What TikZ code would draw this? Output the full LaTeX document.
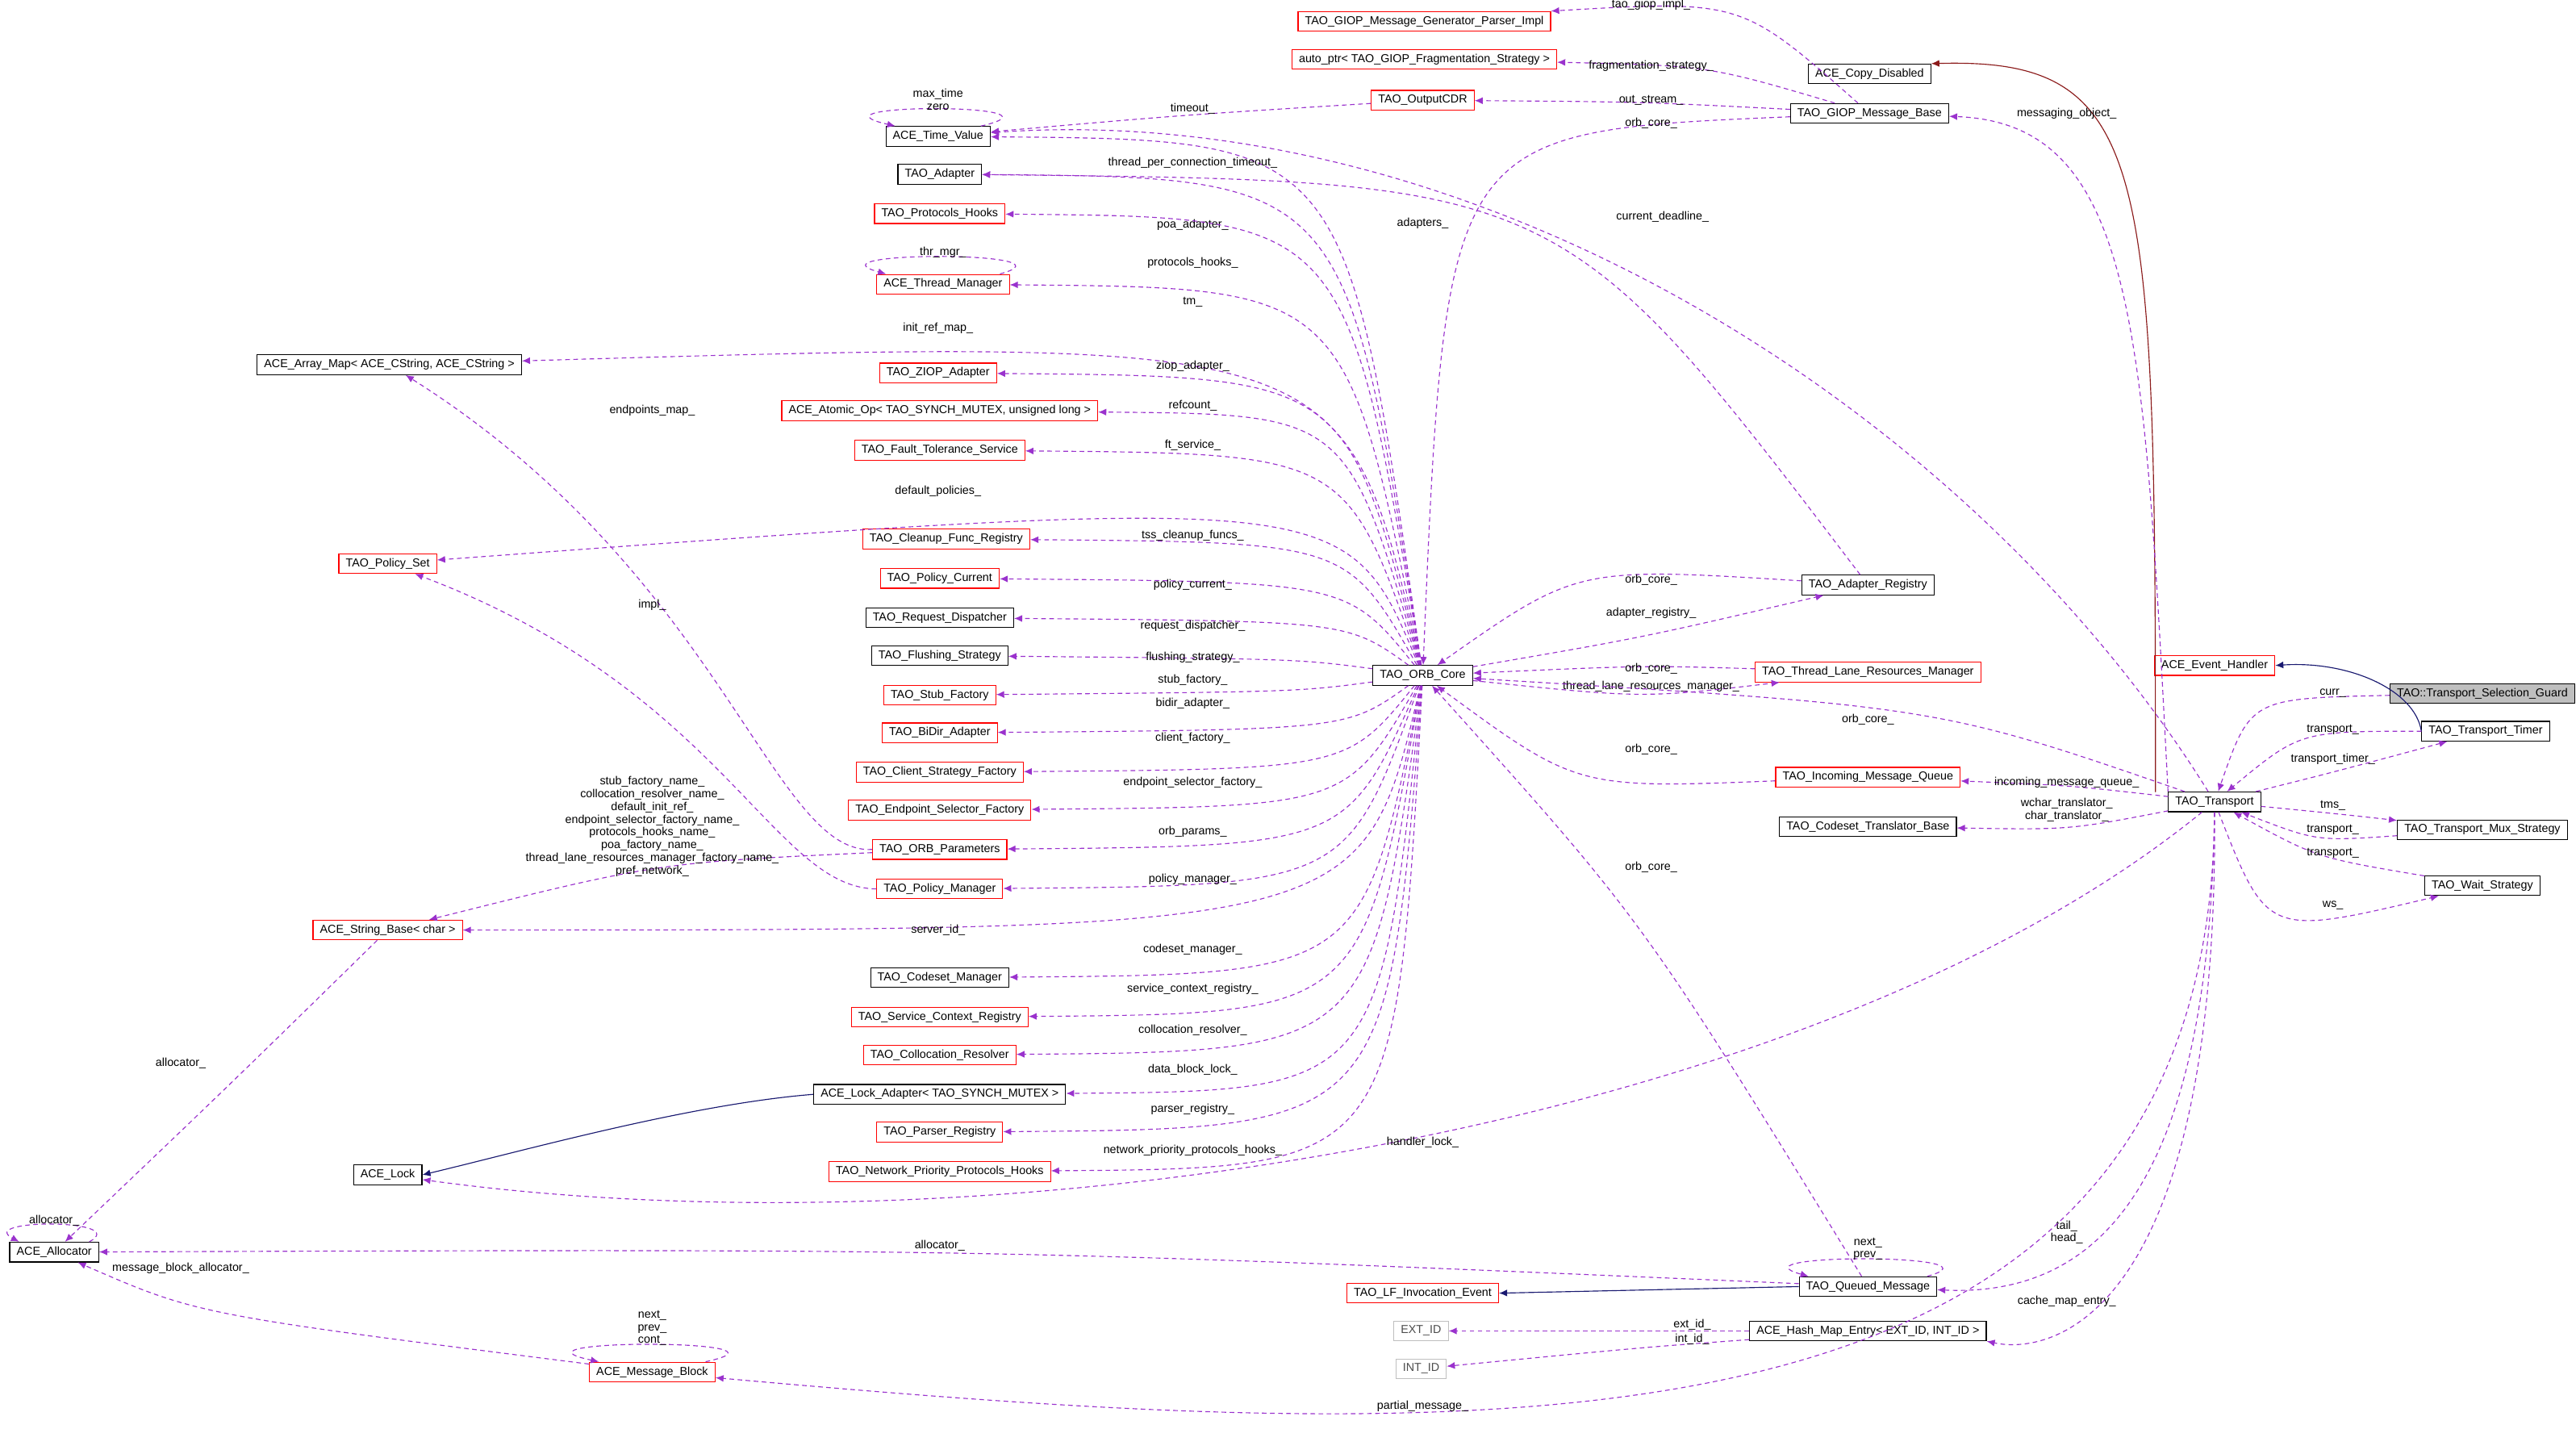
\documentclass[tikz,border=0pt]{standalone}
\usepackage{fontspec}
\setmainfont{Liberation Sans}
\usetikzlibrary{calc,arrows.meta}
\definecolor{membc}{HTML}{9A32CD}
\definecolor{navyc}{HTML}{191970}
\definecolor{darkredc}{HTML}{8B1A1A}
\tikzset{
  cls/.style={draw=black,fill=white,font=\fontsize{5}{6}\selectfont,inner xsep=3pt,inner ysep=0pt,minimum height=0.3cm},
  clsr/.style={cls,draw=red},
  clsg/.style={cls,draw=black!25,text=black!70},
  memb/.style={draw=membc,dashed,dash pattern=on 2pt off 1.5pt,-{Latex[length=3.5pt,width=3pt]}},
  inh/.style={draw=navyc,-{Latex[length=3.5pt,width=3pt]}},
  elabel/.style={font=\fontsize{5}{5.5}\selectfont,align=center,inner sep=0pt}
}
% member edge with its controls, label placed at its own point
\newcommand\mem[5]{%
  \draw[memb] (#1) .. #3 .. (#2);
  \node[elabel] at (#4) {#5};}
\newcommand\mloop[4]{%
  \draw[memb] ($(#1.north east)+(-6,0)$) .. controls ($(#1.north east)+(#2,-#3)$) and ($(#1.north west)+(-#2,-#3)$) .. ($(#1.north west)+(6,0)$);
  \node[elabel,anchor=south] at ($(#1.north)+(0,-0.75*#3+1)$) {#4};}
\begin{document}
\begin{tikzpicture}[x=0.025cm,y=-0.025cm]
\useasboundingbox (0,0) rectangle (1568,882);
% classes, left column
\node[clsr] (gpi) at (867,13) {TAO\_GIOP\_Message\_Generator\_Parser\_Impl};
\node[clsr] (fra) at (867,36) {auto\_ptr< TAO\_GIOP\_Fragmentation\_Strategy >};
\node[cls] (cpd) at (1138,45) {ACE\_Copy\_Disabled};
\node[clsr] (ocdr) at (866,61) {TAO\_OutputCDR};
\node[cls] (giop) at (1138,69) {TAO\_GIOP\_Message\_Base};
\node[cls] (tv) at (571,83) {ACE\_Time\_Value};
\node[cls] (ada) at (572,106) {TAO\_Adapter};
\node[clsr] (phk) at (572,130) {TAO\_Protocols\_Hooks};
\node[clsr] (thm) at (574,173) {ACE\_Thread\_Manager};
\node[cls] (amap) at (237,222) {ACE\_Array\_Map< ACE\_CString, ACE\_CString >};
\node[clsr] (ziop) at (571,227) {TAO\_ZIOP\_Adapter};
\node[clsr] (atom) at (572,250) {ACE\_Atomic\_Op< TAO\_SYNCH\_MUTEX, unsigned long >};
\node[clsr] (fts) at (572,274) {TAO\_Fault\_Tolerance\_Service};
\node[clsr] (pset) at (236,343) {TAO\_Policy\_Set};
\node[clsr] (cfr) at (576,328) {TAO\_Cleanup\_Func\_Registry};
\node[clsr] (pcur) at (572,352) {TAO\_Policy\_Current};
\node[cls] (rdis) at (572,376) {TAO\_Request\_Dispatcher};
\node[cls] (flus) at (572,399) {TAO\_Flushing\_Strategy};
\node[clsr] (stub) at (572,423) {TAO\_Stub\_Factory};
\node[clsr] (bidir) at (572,446) {TAO\_BiDir\_Adapter};
\node[clsr] (csf) at (572,470) {TAO\_Client\_Strategy\_Factory};
\node[clsr] (esf) at (572,493) {TAO\_Endpoint\_Selector\_Factory};
\node[clsr] (orbp) at (572,517) {TAO\_ORB\_Parameters};
\node[clsr] (pman) at (572,541) {TAO\_Policy\_Manager};
\node[clsr] (sbase) at (236,566) {ACE\_String\_Base< char >};
\node[cls] (csm) at (572,595) {TAO\_Codeset\_Manager};
\node[clsr] (scr) at (572,619) {TAO\_Service\_Context\_Registry};
\node[clsr] (colr) at (572,642) {TAO\_Collocation\_Resolver};
\node[cls] (ladp) at (572,666) {ACE\_Lock\_Adapter< TAO\_SYNCH\_MUTEX >};
\node[clsr] (preg) at (572,689) {TAO\_Parser\_Registry};
\node[clsr] (nph) at (572,713) {TAO\_Network\_Priority\_Protocols\_Hooks};
\node[cls] (lock) at (236,715) {ACE\_Lock};
\node[cls] (alloc) at (33,762) {ACE\_Allocator};
\node[clsr] (mblk) at (397,835) {ACE\_Message\_Block};
% classes, middle and right
\node[cls] (core) at (866,411) {TAO\_ORB\_Core};
\node[cls] (areg) at (1137,356) {TAO\_Adapter\_Registry};
\node[clsr] (tlrm) at (1137,409) {TAO\_Thread\_Lane\_Resources\_Manager};
\node[clsr] (imq) at (1137,473) {TAO\_Incoming\_Message\_Queue};
\node[cls] (ctb) at (1137,503) {TAO\_Codeset\_Translator\_Base};
\node[clsr] (evh) at (1348,405) {ACE\_Event\_Handler};
\node[cls,fill=black!25] (guard) at (1511,422) {TAO::Transport\_Selection\_Guard};
\node[cls] (timer) at (1513,445) {TAO\_Transport\_Timer};
\node[cls] (tr) at (1348,488) {TAO\_Transport};
\node[cls] (mux) at (1511,505) {TAO\_Transport\_Mux\_Strategy};
\node[cls] (wait) at (1511,539) {TAO\_Wait\_Strategy};
\node[clsr] (lfe) at (866,787) {TAO\_LF\_Invocation\_Event};
\node[cls] (qm) at (1137,783) {TAO\_Queued\_Message};
\node[clsg] (ext) at (865,810) {EXT\_ID};
\node[clsg] (int) at (865,833) {INT\_ID};
\node[cls] (hme) at (1137,810) {ACE\_Hash\_Map\_Entry< EXT\_ID, INT\_ID >};
% inheritance
\draw[inh] (ladp.west) .. controls (420,672) and (320,700) .. (lock.east);
\draw[inh] (qm.west) -- (lfe.east);
\draw[inh] (timer.west) .. controls (1470,420) and (1430,402) .. (evh.east);
\draw[inh,draw=darkredc] (1312,482) .. controls (1312,100) and (1310,35) .. (cpd.north east);
% self loops
\mloop{tv}{55}{14}{max\_time\\zero}
\mloop{thm}{45}{14}{thr\_mgr\_}
\mloop{qm}{45}{14}{next\_\\prev\_}
\mloop{mblk}{60}{14}{next\_\\prev\_\\cont\_}
\mloop{alloc}{20}{14}{allocator\_}
% members of the ORB core
\mem{core}{tv}{controls (820,85)}{726,99}{thread\_per\_connection\_timeout\_}
\mem{core}{ada}{controls (820,108)}{726,137}{poa\_adapter\_}
\mem{core}{phk}{controls (820,132)}{726,160}{protocols\_hooks\_}
\mem{core}{thm}{controls (820,175)}{726,184}{tm\_}
\mem{core}{amap}{controls (820,205)}{571,200}{init\_ref\_map\_}
\mem{core}{ziop}{controls (820,229)}{726,223}{ziop\_adapter\_}
\mem{core}{atom}{controls (820,252)}{726,247}{refcount\_}
\mem{core}{fts}{controls (820,276)}{726,271}{ft\_service\_}
\mem{core}{pset}{controls (820,300)}{571,299}{default\_policies\_}
\mem{core}{cfr}{controls (820,330)}{726,326}{tss\_cleanup\_funcs\_}
\mem{core}{pcur}{controls (820,354)}{726,356}{policy\_current\_}
\mem{core}{rdis}{controls (820,378)}{726,381}{request\_dispatcher\_}
\mem{core}{flus}{controls (790,401)}{726,400}{flushing\_strategy\_}
\mem{core}{stub}{controls (790,421)}{726,414}{stub\_factory\_}
\mem{core}{bidir}{controls (820,444)}{726,428}{bidir\_adapter\_}
\mem{core}{csf}{controls (820,468)}{726,449}{client\_factory\_}
\mem{core}{esf}{controls (820,491)}{726,476}{endpoint\_selector\_factory\_}
\mem{core}{orbp}{controls (820,515)}{726,506}{orb\_params\_}
\mem{core}{pman}{controls (820,539)}{726,535}{policy\_manager\_}
\mem{core}{sbase}{controls (830,566)}{571,566}{server\_id\_}
\mem{core}{csm}{controls (830,593)}{726,578}{codeset\_manager\_}
\mem{core}{scr}{controls (830,617)}{726,602}{service\_context\_registry\_}
\mem{core}{colr}{controls (835,640)}{726,627}{collocation\_resolver\_}
\mem{core}{ladp}{controls (840,664)}{726,651}{data\_block\_lock\_}
\mem{core}{preg}{controls (845,687)}{726,675}{parser\_registry\_}
\mem{core}{nph}{controls (850,711)}{726,700}{network\_priority\_protocols\_hooks\_}
\mem{core}{areg}{controls (1000,388)}{1005,373}{adapter\_registry\_}
\mem{core}{tlrm}{controls (1000,425)}{1005,418}{thread\_lane\_resources\_manager\_}
% members pointing at the ORB core
\mem{giop}{core}{controls (880,80)}{1005,75}{orb\_core\_}
\mem{areg}{core}{controls (960,345)}{1005,353}{orb\_core\_}
\mem{tlrm}{core}{controls (1000,405)}{1005,407}{orb\_core\_}
\mem{imq}{core}{controls (960,480)}{1005,456}{orb\_core\_}
\mem{tr}{core}{controls (1180,430)}{1137,438}{orb\_core\_}
\mem{qm}{core}{controls (1000,560)}{1005,528}{orb\_core\_}
% other members
\mem{giop}{ocdr}{controls (1000,62)}{1005,61}{out\_stream\_}
\mem{giop}{fra}{controls (1040,40)}{1005,40}{fragmentation\_strategy\_}
\mem{giop}{gpi.north east}{controls (1060,0)}{1005,3}{tao\_giop\_impl\_}
\mem{ocdr}{tv}{controls (720,70)}{726,66}{timeout\_}
\mem{areg}{ada}{controls (950,110)}{866,136}{adapters\_}
\mem{orbp.west}{amap}{controls (470,520) and (440,350)}{397,250}{endpoints\_map\_}
\mem{pman.west}{pset}{controls (470,540) and (440,420)}{397,368}{impl\_}
\mem{orbp}{sbase}{controls (400,525)}{397,503}{stub\_factory\_name\_\\collocation\_resolver\_name\_\\default\_init\_ref\_\\endpoint\_selector\_factory\_name\_\\protocols\_hooks\_name\_\\poa\_factory\_name\_\\thread\_lane\_resources\_manager\_factory\_name\_\\pref\_network\_}
\mem{sbase}{alloc}{controls (140,660)}{110,647}{allocator\_}
\mem{mblk}{alloc}{controls (120,800)}{110,772}{message\_block\_allocator\_}
\mem{qm}{alloc}{controls (600,760)}{572,758}{allocator\_}
\mem{hme}{ext}{controls (1000,810)}{1030,806}{ext\_id\_}
\mem{hme}{int}{controls (1000,820)}{1030,815}{int\_id\_}
% members of the transport
\mem{guard}{tr}{controls (1370,425)}{1420,422}{curr\_}
\mem{timer}{tr}{controls (1400,445)}{1420,444}{transport\_}
\mem{tr}{timer}{controls (1420,470)}{1420,462}{transport\_timer\_}
\mem{tr}{mux}{controls (1420,495)}{1420,490}{tms\_}
\mem{mux}{tr}{controls (1410,512)}{1420,505}{transport\_}
\mem{wait}{tr}{controls (1410,522)}{1420,519}{transport\_}
\mem{tr}{wait}{controls (1380,570)}{1420,551}{ws\_}
\mem{tr}{imq}{controls (1260,478)}{1258,476}{incoming\_message\_queue\_}
\mem{tr}{ctb}{controls (1260,505)}{1258,493}{wchar\_translator\_\\char\_translator\_}
\mem{tr}{tv}{controls (1200,250) and (900,60)}{1012,132}{current\_deadline\_}
\mem{tr.north west}{giop}{controls (1305,200) and (1300,75)}{1258,69}{messaging\_object\_}
\mem{tr}{lock}{controls (1100,690) and (600,765)}{866,695}{handler\_lock\_}
\mem{tr}{qm}{controls (1345,700) and (1290,790)}{1258,750}{tail\_\\head\_}
\mem{tr}{hme.south east}{controls (1350,800) and (1250,825)}{1258,792}{cache\_map\_entry\_}
\mem{tr}{mblk}{controls (1345,905) and (900,880)}{866,856}{partial\_message\_}
\end{tikzpicture}
\end{document}
